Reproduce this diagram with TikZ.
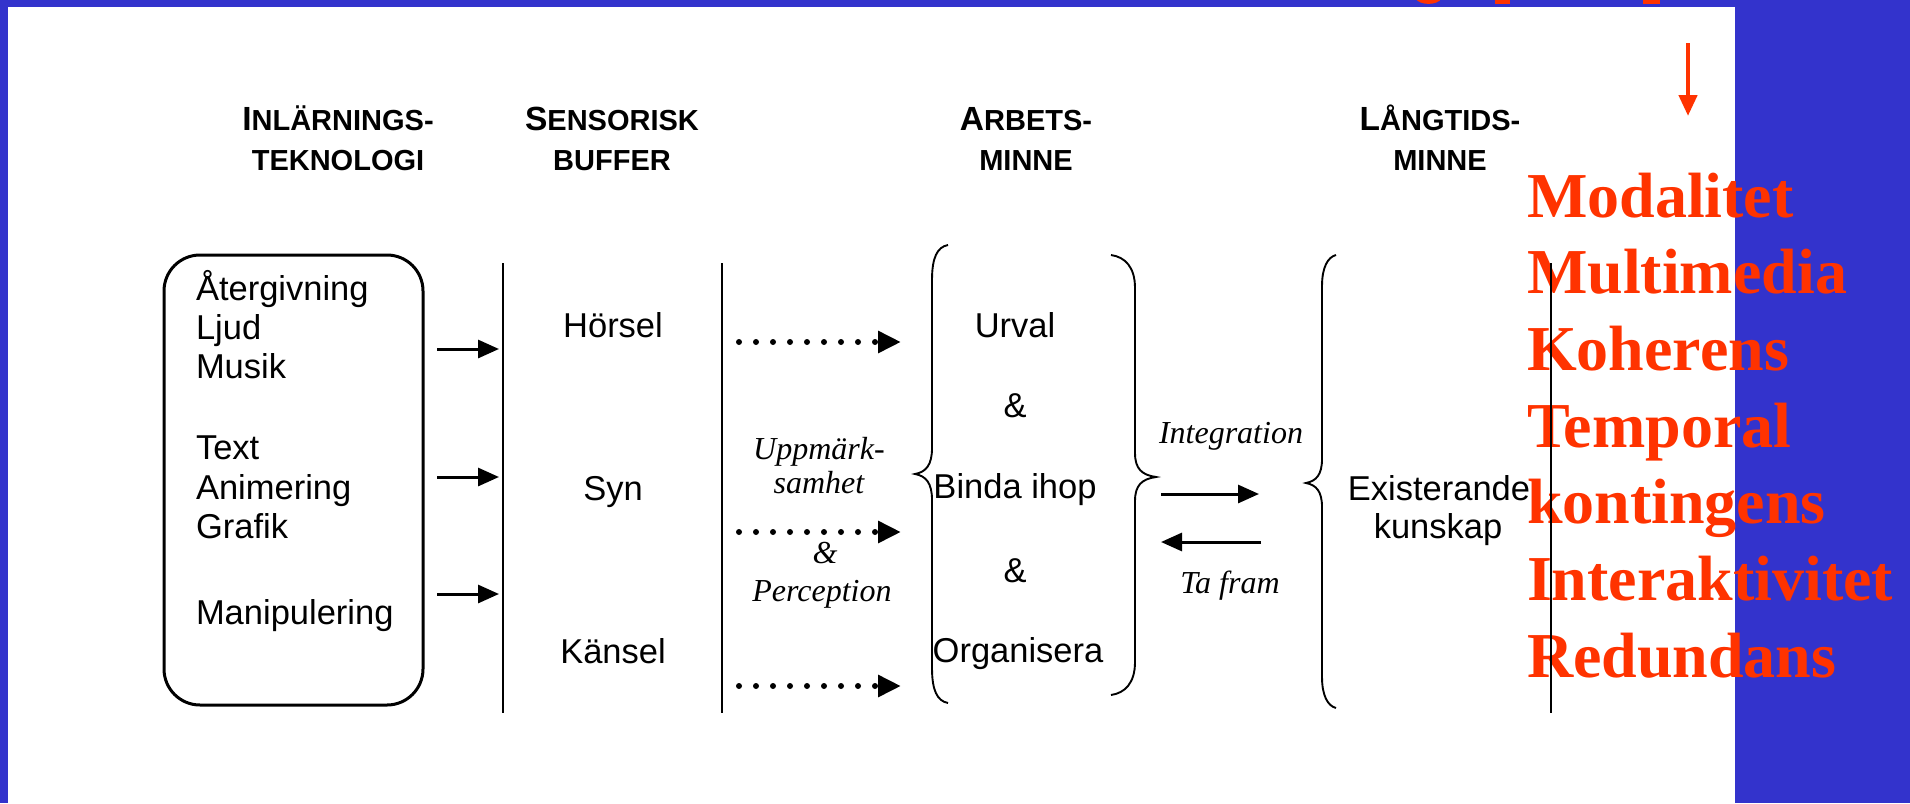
\documentclass[tikz,border=0pt]{standalone}
\usepackage{fontspec}
\setmainfont{Liberation Sans}
\newfontfamily\serifred{Liberation Serif}
\usetikzlibrary{arrows.meta}
\definecolor{slideblue}{RGB}{51,51,204}
\definecolor{slidered}{RGB}{255,51,0}
\begin{document}
\begin{tikzpicture}[x=1pt,y=-1pt,
  every node/.style={inner sep=0pt, outer sep=0pt},
  body/.style={font=\fontsize{34.5}{40}\selectfont, anchor=base},
  bodyl/.style={font=\fontsize{34.5}{40}\selectfont, anchor=base west},
  ital/.style={font=\serifred\itshape\fontsize{32}{36}\selectfont, anchor=base},
  hdr/.style={font=\bfseries\fontsize{29}{34}\selectfont, anchor=base},
  redlist/.style={font=\serifred\bfseries\fontsize{64}{76}\selectfont, text=slidered, anchor=base west},
  vline/.style={line width=2pt},
  bracepath/.style={line width=1.9pt},
  solidarrow/.style={line width=3pt, -{Triangle[length=21pt,width=18pt]}},
  dotarrow/.style={line width=6pt, line cap=round, dash pattern=on 0pt off 17pt, -{Triangle[length=23pt,width=21pt]}},
]
\useasboundingbox (0,0) rectangle (1910,803);
% slide background
\fill[slideblue] (0,0) rectangle (1910,803);
\fill[white] (8,7) rectangle (1735,803);

% cut-off red fragments at top
\begin{scope}
\clip (0,0) rectangle (1910,7);
\draw[slidered, line width=4pt] (1417,-3) .. controls (1420,3.5) and (1437,3.5) .. (1440,-3);
\fill[slidered] (1495,0) rectangle (1510,3.5);
\fill[slidered] (1643,0) rectangle (1660,3.5);
\end{scope}

% red arrow
\coordinate (rtop) at (1688,43);
\coordinate (rtip) at (1688,116);
\draw[slidered, line width=4.5pt, -{Triangle[length=21pt,width=18pt]}] (rtop) -- (rtip);

% red list
\node[redlist] (r1) at (1527,217) {Modalitet};
\node[redlist] (r2) at (1527,293) {Multimedia};
\node[redlist] (r3) at (1527,370) {Koherens};
\node[redlist] (r4) at (1527,447) {Temporal};
\node[redlist] (r5) at (1527,523) {kontingens};
\node[redlist] (r6) at (1527,600) {Interaktivitet};
\node[redlist] (r7) at (1527,677) {Redundans};

% headers
\node[hdr] (h1a) at (338,130) {{\fontsize{33.5}{34}\selectfont I}NLÄRNINGS-};
\node[hdr] (h1b) at (338,170) {TEKNOLOGI};
\node[hdr] (h2a) at (612,130) {{\fontsize{33.5}{34}\selectfont S}ENSORISK};
\node[hdr] (h2b) at (612,170) {BUFFER};
\node[hdr] (h3a) at (1026,130) {{\fontsize{33.5}{34}\selectfont A}RBETS-};
\node[hdr] (h3b) at (1026,170) {MINNE};
\node[hdr] (h4a) at (1440,130) {{\fontsize{33.5}{34}\selectfont L}ÅNGTIDS-};
\node[hdr] (h4b) at (1440,170) {MINNE};

% learning technology box
\node[draw, line width=3pt, rounded corners=36pt, minimum width=259pt, minimum height=450pt] (box) at (293.5,480) {};
\node[bodyl] (t1) at (196,300) {Återgivning};
\node[bodyl] (t2) at (196,339) {Ljud};
\node[bodyl] (t3) at (196,378) {Musik};
\node[bodyl] (t4) at (196,459) {Text};
\node[bodyl] (t5) at (196,499) {Animering};
\node[bodyl] (t6) at (196,538) {Grafik};
\node[bodyl] (t7) at (196,624) {Manipulering};

% solid arrows box -> buffer
\coordinate (a1s) at (437,349); \coordinate (a1e) at (499,349);
\coordinate (a2s) at (437,477); \coordinate (a2e) at (499,477);
\coordinate (a3s) at (437,594); \coordinate (a3e) at (499,594);
\draw[solidarrow] (a1s) -- (a1e);
\draw[solidarrow] (a2s) -- (a2e);
\draw[solidarrow] (a3s) -- (a3e);

% vertical lines
\coordinate (l1t) at (503,263); \coordinate (l1b) at (503,713);
\coordinate (l2t) at (722,263); \coordinate (l2b) at (722,713);
\draw[vline] (l1t) -- (l1b);
\draw[vline] (l2t) -- (l2b);

% sensory buffer
\node[body] (hor) at (613,337) {Hörsel};
\node[body] (syn) at (613,500) {Syn};
\node[body] (kan) at (613,663) {Känsel};

% dotted arrows
\coordinate (d1s) at (739,342); \coordinate (d1e) at (901,342);
\coordinate (d2s) at (739,532); \coordinate (d2e) at (901,532);
\coordinate (d3s) at (739,686); \coordinate (d3e) at (901,686);
\draw[dotarrow] (d1s) -- (d1e);
\draw[dotarrow] (d2s) -- (d2e);
\draw[dotarrow] (d3s) -- (d3e);
\node[ital] (upp) at (819,459) {Uppmärk-};
\node[ital] (sam) at (819,493) {samhet};
\node[ital] (amp) at (825,563) {\&};
\node[ital] (per) at (822,601) {Perception};

% working memory braces
\draw[bracepath] (948,245) .. controls (937,247) and (932,258) .. (932,280) -- (932,448)
  .. controls (932,465) and (926,472) .. (915,474)
  .. controls (926,476) and (932,483) .. (932,500) -- (932,668)
  .. controls (932,690) and (937,701) .. (948,703);
\draw[bracepath] (1111,255) .. controls (1125,257) and (1135,267) .. (1135,288) -- (1135,453)
  .. controls (1135,469) and (1142,475) .. (1156,477)
  .. controls (1142,479) and (1135,485) .. (1135,501) -- (1135,662)
  .. controls (1135,683) and (1125,693) .. (1111,695);
\node[body] (urv) at (1015,337) {Urval};
\node[body] (am1) at (1015,417) {\&};
\node[body] (bin) at (1015,498) {Binda ihop};
\node[body] (am2) at (1015,582) {\&};
\node[body] (org) at (1018,662) {Organisera};

% integration arrows
\node[ital] (int) at (1231,443) {Integration};
\coordinate (i1s) at (1161,494); \coordinate (i1e) at (1259,494);
\coordinate (i2s) at (1261,542); \coordinate (i2e) at (1161,542);
\draw[solidarrow] (i1s) -- (i1e);
\draw[solidarrow] (i2s) -- (i2e);
\node[ital] (taf) at (1230,593) {Ta fram};

% long-term memory
\draw[bracepath] (1336,255) .. controls (1328,257) and (1322,267) .. (1322,286) -- (1322,459)
  .. controls (1322,475) and (1316,481) .. (1306,483)
  .. controls (1316,485) and (1322,491) .. (1322,507) -- (1322,677)
  .. controls (1322,696) and (1328,706) .. (1336,708);
\node[body] (exi) at (1439,500) {Existerande};
\node[body] (kun) at (1438,538) {kunskap};

\coordinate (l3t) at (1551,263); \coordinate (l3b) at (1551,713);
\draw[vline] (l3t) -- (l3b);
\end{tikzpicture}
\end{document}
